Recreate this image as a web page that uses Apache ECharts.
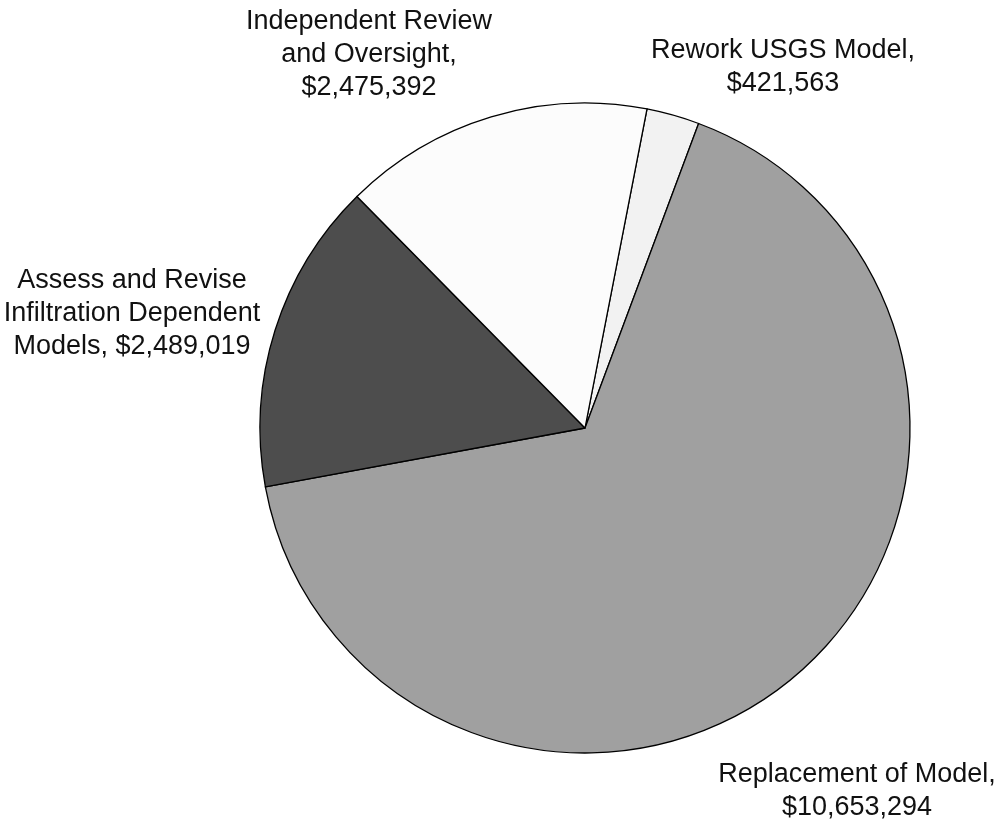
<!DOCTYPE html>
<html><head><meta charset="utf-8">
<script src="https://cdn.jsdelivr.net/npm/echarts@6/dist/echarts.min.js"></script>
<style>html,body{margin:0;padding:0;background:#fff}#c{width:1001px;height:823px}</style>
</head><body><div id="c"></div>
<script>
const categories = ["Rework USGS Model", "Replacement of Model", "Assess and Revise\nInfiltration Dependent\nModels", "Independent Review\nand Oversight"];
const values = [421563, 10653294, 2489019, 2475392];
const labelTexts = ["Rework USGS Model,\n$421,563", "Replacement of Model,\n$10,653,294", "Assess and Revise\nInfiltration Dependent\nModels, $2,489,019", "Independent Review\nand Oversight,\n$2,475,392"];
const colors = ["#f2f2f2", "#a0a0a0", "#4d4d4d", "#fcfcfc"];
const labelSpots = [[783, 67], [857, 791], [132, 314], [369, 55]];

const chart = echarts.init(document.getElementById('c'), null, {renderer: 'canvas'});
chart.setOption({
  animation: false,
  backgroundColor: '#fff',
  series: [{
    type: 'pie',
    center: [585, 428],
    radius: 325,
    startAngle: 79,
    clockwise: true,
    avoidLabelOverlap: false,
    data: categories.map((c, i) => ({name: c, value: values[i], itemStyle: {color: colors[i]}})),
    itemStyle: {borderColor: '#000', borderWidth: 1.3},
    label: {
      show: true,
      position: 'outside',
      formatter: p => labelTexts[p.dataIndex],
      fontFamily: 'Liberation Sans, Arial, sans-serif',
      fontSize: 27,
      lineHeight: 33,
      color: '#111',
      align: 'center'
    },
    labelLine: {show: false},
    labelLayout: p => ({x: labelSpots[p.dataIndex][0], y: labelSpots[p.dataIndex][1], align: 'center', verticalAlign: 'middle'}),
    emphasis: {disabled: true}
  }]
});
</script></body></html>
